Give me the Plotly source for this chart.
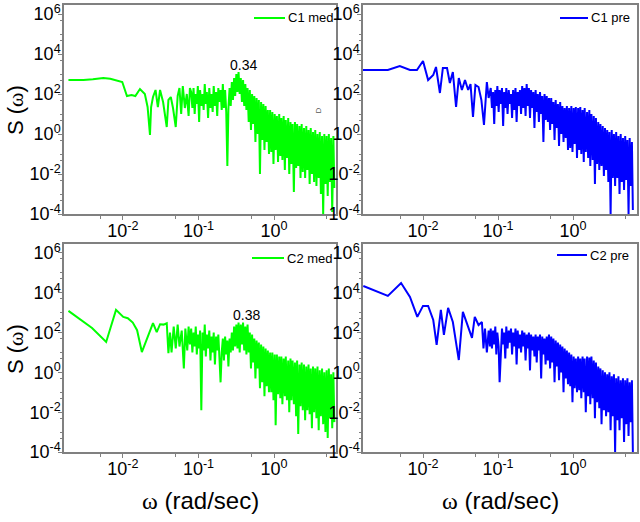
import numpy as np
import plotly.graph_objects as go

# ---------------- data ----------------
# shared frequency grid for the dense part of all spectra (rad/sec)
omega_high = [
    0.080, 0.083, 0.086, 0.089, 0.092, 0.095, 0.098, 0.102, 0.105, 0.109,
    0.113, 0.117, 0.121, 0.125, 0.129, 0.134, 0.139, 0.144, 0.149, 0.154,
    0.159, 0.165, 0.171, 0.177, 0.183, 0.189, 0.196, 0.203, 0.210, 0.217,
    0.225, 0.233, 0.241, 0.249, 0.258, 0.267, 0.276, 0.286, 0.296, 0.306,
    0.317, 0.328, 0.339, 0.351, 0.363, 0.376, 0.389, 0.403, 0.417, 0.431,
    0.446, 0.462, 0.478, 0.495, 0.512, 0.530, 0.548, 0.567, 0.587, 0.608,
    0.629, 0.651, 0.674, 0.697, 0.722, 0.747, 0.773, 0.800, 0.828, 0.857,
    0.887, 0.918, 0.950, 0.983, 1.02, 1.05, 1.09, 1.13, 1.17, 1.21,
    1.25, 1.29, 1.34, 1.39, 1.43, 1.48, 1.54, 1.59, 1.65, 1.70,
    1.76, 1.83, 1.89, 1.96, 2.02, 2.09, 2.17, 2.24, 2.32, 2.40,
    2.49, 2.58, 2.67, 2.76, 2.86, 2.96, 3.06, 3.17, 3.28, 3.39,
    3.51, 3.64, 3.76, 3.90, 4.03, 4.17, 4.32, 4.47, 4.63, 4.79,
    4.96, 5.13, 5.31, 5.50, 5.69, 5.89, 6.10, 6.28,
]

# ---- C1 med (top left) ----
c1_med_omega_low = [
    0.0019, 0.0030, 0.0040, 0.0055, 0.0068, 0.0078, 0.0098, 0.0113, 0.0130, 0.0146,
    0.0168, 0.0195, 0.0212, 0.0228, 0.0236, 0.0250, 0.0270, 0.0290, 0.0310, 0.0340,
    0.0380, 0.0400, 0.0430, 0.0460, 0.0500, 0.0530, 0.0560, 0.0590, 0.0620, 0.0660,
    0.0700, 0.0740, 0.0770,
]
c1_med_log10S_low = [
    2.70, 2.70, 2.74, 2.80, 2.76, 2.70, 2.60, 1.90, 1.95, 1.90,
    2.25, 2.00, 1.35, -0.05, 1.35, 1.85, 2.20, 1.35, 2.20, 1.60,
    0.35, 1.70, 1.85, 1.30, 0.35, 1.90, 2.30, 1.00, 2.40, 1.30,
    2.00, 0.90, 2.30,
]
c1_med_log10S_high = [
    2.1, 1.3, 2.3, 1.0, 2.0, 1.5, 2.4, 0.6, 2.2, 1.4,
    2.0, 1.2, 2.5, 1.5, 2.1, 0.8, 2.3, 1.3, 2.0, 1.1,
    2.4, 1.4, 2.1, 0.9, 2.3, 1.6, 2.2, 1.2, 2.5, 1.3,
    2.2, 1.1, -1.6, 1.3, 2.3, 1.4, 2.6, 1.7, 2.8, 1.9,
    3.0, 2.1, 3.1, 2.0, 2.8, 1.6, 2.7, 1.4, 2.5, 1.2,
    2.3, 0.6, 2.2, 0.2, 2.0, 0.5, 1.9, -0.4, 1.8, 0.0,
    1.7, -2.0, 1.6, -0.3, 1.5, -0.8, 1.4, -0.4, 1.2, -1.0,
    1.2, -0.9, 1.1, -1.5, 1.0, -0.8, 0.9, -1.4, 1.0, -1.1,
    0.8, -1.3, 0.9, -1.8, 0.7, -1.2, 0.8, -2.0, 0.6, -1.5,
    0.5, -2.9, 0.6, -1.7, 0.5, -1.6, 0.4, -2.2, 0.5, -1.9,
    0.3, -2.2, 0.4, -1.8, 0.2, -2.5, 0.3, -2.0, 0.1, -2.4,
    0.2, -2.6, 0.0, -2.2, 0.1, -3.0, -0.1, -4.0, 0.0, -2.5,
    -0.1, -3.1, 0.0, -2.4, -0.2, -3.9, -0.1, -2.7,
]

# ---- C1 pre (top right) ----
c1_pre_omega_low = [
    0.00158, 0.0034, 0.0049, 0.0067, 0.0083, 0.0100, 0.0117, 0.0137, 0.0149, 0.0168,
    0.0184, 0.0209, 0.0228, 0.0250, 0.0276, 0.0300, 0.0330, 0.0363, 0.0400, 0.0430,
    0.0464, 0.0500, 0.0550, 0.0600, 0.0650, 0.0710, 0.0750,
]
c1_pre_log10S_low = [
    3.20, 3.20, 3.40, 3.20, 3.20, 3.65, 2.70, 2.95, 3.35, 2.05,
    3.30, 3.30, 2.55, 3.10, 1.35, 2.80, 2.20, 2.70, 2.20, 2.50,
    0.85, 2.45, 2.35, 1.70, 0.45, 2.60, 1.80,
]
c1_pre_log10S_high = [
    2.3, 1.3, 2.1, 0.5, 2.2, 1.4, 2.4, 1.1, 2.2, 1.5,
    2.3, 0.4, 2.1, 1.3, 2.3, 1.0, 2.2, 1.5, 2.0, 0.8,
    2.2, 1.2, 2.3, 0.6, 2.1, 1.4, 2.2, 1.0, 2.4, 1.3,
    2.3, 0.9, 2.5, 1.4, 2.3, 0.8, 2.2, 1.3, 2.1, 0.3,
    2.2, 1.1, 2.0, 0.6, 2.1, 1.0, 1.9, -0.4, 2.0, 0.7,
    1.9, 0.6, 1.8, 0.2, 1.8, 0.5, 1.6, -0.3, 1.7, 0.3,
    1.5, -0.6, 1.6, 0.0, 1.4, -0.4, 1.3, -0.2, 1.4, -0.8,
    1.3, -0.7, 1.4, -0.9, 1.3, -0.5, 1.35, -1.2, 1.3, -0.8,
    1.35, -1.0, 1.2, -1.4, 1.3, -0.9, 1.1, -1.2, 1.2, -1.6,
    1.0, -1.3, 0.9, -2.5, 0.8, -1.5, 0.6, -1.8, 0.5, -1.6,
    0.4, -2.1, 0.3, -1.8, 0.2, -2.4, 0.1, -4.0, 0.2, -2.2,
    0.0, -2.6, 0.1, -2.2, -0.1, -3.0, 0.0, -2.4, -0.2, -2.8,
    -0.1, -2.3, -0.3, -4.0, -0.2, -2.6, -0.4, -3.8,
]

# ---- C2 med (bottom left) ----
c2_med_omega_low = [
    0.0019, 0.0039, 0.0060, 0.0081, 0.0101, 0.0116, 0.0135, 0.0154, 0.0178, 0.0215,
    0.0250, 0.0280, 0.0310, 0.0345, 0.0380, 0.0400, 0.0420, 0.0440, 0.0470, 0.0500,
    0.0530, 0.0560, 0.0600, 0.0640, 0.0670, 0.0710, 0.0740, 0.0770,
]
c2_med_log10S_low = [
    3.09, 2.23, 1.53, 3.14, 2.79, 2.72, 2.50, 2.12, 1.02, 1.86,
    2.47, 2.02, 2.42, 2.40, 2.47, 0.97, 2.00, 1.00, 2.30, 1.20,
    2.40, 1.30, 2.10, 0.20, 2.20, 1.10, 2.30, 1.40,
]
c2_med_log10S_high = [
    2.2, 1.0, 2.0, 1.3, 2.3, 0.9, 1.9, 1.2, 2.1, -1.9,
    2.0, 1.1, 2.4, 0.8, 1.9, 1.2, 2.1, 0.6, 1.8, 1.0,
    2.0, 0.4, 1.8, 1.1, 1.9, 0.8, -0.5, 1.0, 1.7, 0.6,
    1.8, 0.9, 1.6, 0.3, 1.7, 1.0, 2.0, 1.1, 2.3, 1.3,
    2.4, 1.2, 2.5, 1.0, 2.4, 1.4, 2.5, 1.1, 2.3, 0.9,
    2.4, 1.0, 2.0, 0.2, 1.9, 0.5, 1.7, -0.3, 1.6, 0.2,
    1.5, -0.8, 1.4, -0.5, 1.3, -1.2, 1.2, -0.7, 1.1, -1.0,
    1.0, -1.0, 1.0, -1.4, 0.9, -2.65, 0.9, -1.1, 0.8, -1.3,
    0.8, -1.6, 0.7, -1.2, 0.8, -1.4, 0.6, -2.0, 0.7, -1.4,
    0.6, -1.6, 0.5, -2.2, 0.6, -3.1, 0.4, -1.7, 0.5, -1.9,
    0.4, -2.4, 0.3, -1.9, 0.4, -2.1, 0.2, -2.8, 0.3, -2.0,
    0.2, -2.3, 0.3, -2.9, 0.1, -2.2, 0.2, -2.6, 0.0, -3.0,
    0.1, -3.3, 0.2, -2.3, -0.1, -2.8, 0.0, -2.5,
]

# ---- C2 pre (bottom right) ----
c2_pre_omega_low = [
    0.0016, 0.0034, 0.0051, 0.0067, 0.0084, 0.0100, 0.0117, 0.0137, 0.0152, 0.0173,
    0.0190, 0.0216, 0.0250, 0.0300, 0.0340, 0.0380, 0.0450, 0.0490, 0.0550, 0.0610,
    0.0640, 0.0670, 0.0710, 0.0750, 0.0780,
]
c2_pre_log10S_low = [
    4.34, 3.84, 4.49, 3.79, 2.79, 3.34, 3.34, 2.63, 1.38, 3.14,
    1.88, 3.24, 2.53, 0.62, 3.04, 2.48, 1.73, 2.79, 2.38, 2.53,
    1.20, 2.20, 1.00, 2.10, 1.30,
]
c2_pre_log10S_high = [
    2.2, 1.2, 2.1, 1.4, 2.3, 0.9, 2.0, 1.3, -0.5, 1.1,
    2.2, 1.4, 2.0, 0.7, 2.3, 1.2, 2.1, 1.5, 2.2, 0.9,
    2.0, 1.3, 2.2, 0.4, 2.1, 1.2, 1.9, 1.0, 2.1, 1.3,
    2.0, 0.6, 1.9, 1.2, 2.0, 0.1, 1.9, 1.1, 1.8, 0.8,
    1.9, 0.5, 1.8, 1.1, 1.9, -0.3, 1.8, 0.9, 1.7, 0.4,
    1.8, 0.6, 1.9, 0.2, 1.8, 0.5, 1.7, -0.5, 1.6, 0.3,
    1.5, -0.4, 1.4, 0.0, 1.3, -1.0, 1.2, -0.3, 1.1, -0.6,
    1.0, -0.7, 0.9, -1.5, 0.8, -0.8, 0.7, -1.0, 0.8, -0.9,
    0.7, -1.3, 0.8, -1.0, 0.7, -2.0, 0.8, -1.2, 0.75, -1.6,
    0.8, -1.3, 0.6, -2.3, 0.5, -1.5, 0.3, -1.8, 0.2, -2.6,
    0.1, -1.9, 0.0, -2.2, -0.1, -2.0, 0.0, -2.9, -0.2, -2.2,
    -0.1, -4.0, -0.3, -2.4, -0.2, -2.9, -0.4, -2.3, -0.3, -3.5,
    -0.4, -2.6, -0.3, -3.2, -0.5, -2.5, -0.4, -4.0,
]

series_names = ["C1 med", "C1 pre", "C2 med", "C2 pre"]
peak_labels = ["0.34", "0.38"]

# tick values and labels
x_tickvals = [1e-2, 1e-1, 1e0]
x_ticktext = ["10<sup>-2</sup>", "10<sup>-1</sup>", "10<sup>0</sup>"]
y_tickvals = [1e-4, 1e-2, 1e0, 1e2, 1e4, 1e6]
y_ticktext = ["10<sup>-4</sup>", "10<sup>-2</sup>", "10<sup>0</sup>",
              "10<sup>2</sup>", "10<sup>4</sup>", "10<sup>6</sup>"]
x_minor = [5e-3, 5e-2, 5e-1, 5e0]
y_minor = [5e-4, 1e-3, 5e-3, 5e-2, 1e-1, 5e-1, 5e0, 1e1, 5e1, 5e2, 1e3, 5e3, 5e4, 1e5, 5e5]

# ---------------- figure ----------------
W, H = 640, 522
GREEN = "#00ff00"
BLUE = "#0000ff"
AXC = "#808080"
FONT = "Liberation Sans, Arial"


def px_x(p):
    return p / W


def px_y(p):
    return 1 - p / H


series = [
    (c1_med_omega_low, c1_med_log10S_low, c1_med_log10S_high, series_names[0], GREEN, "x", "y"),
    (c1_pre_omega_low, c1_pre_log10S_low, c1_pre_log10S_high, series_names[1], BLUE, "x2", "y2"),
    (c2_med_omega_low, c2_med_log10S_low, c2_med_log10S_high, series_names[2], GREEN, "x3", "y3"),
    (c2_pre_omega_low, c2_pre_log10S_low, c2_pre_log10S_high, series_names[3], BLUE, "x4", "y4"),
]

fig = go.Figure()
for om_low, ls_low, ls_high, name, col, xa, ya in series:
    assert len(om_low) == len(ls_low), (name, len(om_low), len(ls_low))
    assert len(omega_high) == len(ls_high), (name, len(omega_high), len(ls_high))
    xs = list(om_low) + list(omega_high)
    ys = 10 ** np.array(list(ls_low) + list(ls_high))
    fig.add_trace(go.Scatter(x=xs, y=ys, mode="lines", name=name,
                             line=dict(color=col, width=2),
                             xaxis=xa, yaxis=ya, showlegend=False))

tickfont = dict(family=FONT, size=18, color="black")


def xaxis(domain, rng, anchor):
    return dict(type="log", domain=domain, range=rng, anchor=anchor, automargin=False,
                showline=True, linecolor=AXC, linewidth=1.5, mirror=True,
                ticks="outside", ticklen=4, tickwidth=1, tickcolor=AXC,
                tickmode="array", tickvals=x_tickvals, ticktext=x_ticktext,
                showgrid=False, zeroline=False, tickfont=tickfont, ticklabelstandoff=-4,
                minor=dict(tickmode="array", tickvals=x_minor, ticks="outside",
                           ticklen=3, tickcolor=AXC, showgrid=False))


def yaxis(domain, rng, anchor):
    return dict(type="log", domain=domain, range=rng, anchor=anchor, automargin=False,
                showline=True, linecolor=AXC, linewidth=1.5, mirror=True,
                ticks="outside", ticklen=4, tickwidth=1, tickcolor=AXC,
                tickmode="array", tickvals=y_tickvals, ticktext=y_ticktext,
                showgrid=False, zeroline=False, tickfont=tickfont, ticklabelstandoff=-6,
                minor=dict(tickmode="array", tickvals=y_minor, ticks="outside",
                           ticklen=2, tickcolor=AXC, showgrid=False))


xl = [px_x(64), px_x(336)]
xr = [px_x(363), px_x(637)]
yt = [px_y(214), px_y(5)]
yb = [px_y(452), px_y(244)]
yr = [-4, 6.45]

fig.update_layout(
    width=W, height=H, margin=dict(l=0, r=0, t=0, b=0, autoexpand=False),
    paper_bgcolor="white", plot_bgcolor="white",
    font=dict(family=FONT, color="black"),
    showlegend=False,
    xaxis=xaxis(xl, [-2.78, 0.82], "y"),
    yaxis=yaxis(yt, yr, "x"),
    xaxis2=xaxis(xr, [-2.80, 0.853], "y2"),
    yaxis2=yaxis(yt, yr, "x2"),
    xaxis3=xaxis(xl, [-2.78, 0.82], "y3"),
    yaxis3=yaxis(yb, yr, "x3"),
    xaxis4=xaxis(xr, [-2.80, 0.853], "y4"),
    yaxis4=yaxis(yb, yr, "x4"),
)

# legend keys (sample line + label) at the top right of each panel
legend_keys = [  # (line x0, line x1, y) in pixels
    (254, 285, 18),
    (560, 588, 18),
    (252, 284, 258),
    (557, 587, 255),
]
shapes = []
ann = []
for (x0, x1, yy), name, col in zip(legend_keys, series_names, [GREEN, BLUE, GREEN, BLUE]):
    shapes.append(dict(type="line", xref="paper", yref="paper",
                       x0=px_x(x0), x1=px_x(x1), y0=px_y(yy), y1=px_y(yy),
                       line=dict(color=col, width=2)))
    ann.append(dict(x=px_x(x1 + 1), y=px_y(yy), xref="paper", yref="paper",
                    xanchor="left", yanchor="middle", text=name, showarrow=False,
                    font=dict(family=FONT, size=13, color="black")))

# peak labels
ann.append(dict(x=-0.40, y=3.45, xref="x", yref="y", text=peak_labels[0], showarrow=False,
                xanchor="center", yanchor="middle", font=dict(size=14)))
ann.append(dict(x=-0.36, y=2.88, xref="x3", yref="y3", text=peak_labels[1], showarrow=False,
                xanchor="center", yanchor="middle", font=dict(size=14)))
# small rotated glyph in top-left panel
ann.append(dict(x=0.60, y=1.2, xref="x", yref="y", text="D", showarrow=False,
                xanchor="center", yanchor="middle",
                textangle=-90, font=dict(size=8, color="#555555")))
# axis titles
omega_txt = '<span style="font-family:Liberation Serif">ω</span>'
for yc in (110, 349):
    ann.append(dict(x=px_x(15), y=px_y(yc), xref="paper", yref="paper",
                    xanchor="center", yanchor="middle",
                    text="S (" + omega_txt + ")", showarrow=False, textangle=-90,
                    font=dict(size=22)))
for xc in (200, 500):
    ann.append(dict(x=px_x(xc), y=px_y(500), xref="paper", yref="paper",
                    xanchor="center", yanchor="middle",
                    text=omega_txt + " (rad/sec)", showarrow=False,
                    font=dict(size=24)))
fig.update_layout(annotations=ann, shapes=shapes)

fig.write_html("out.html", config={"displayModeBar": False},
               post_script="document.body.style.margin='0';document.body.style.padding='0';")
